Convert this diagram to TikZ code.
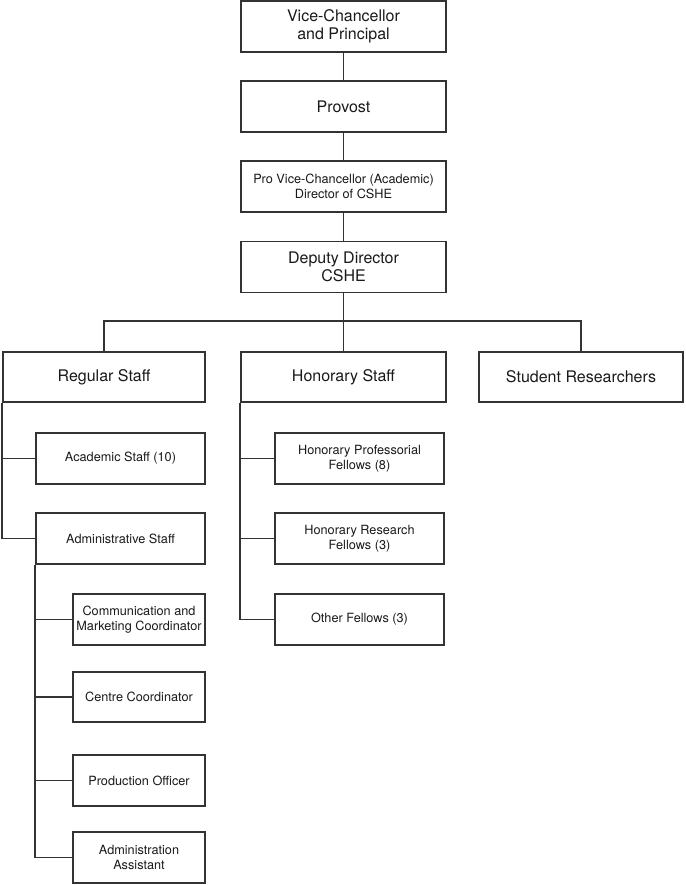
\documentclass[tikz,border=0pt]{standalone}
\usepackage{fontspec}
\setmainfont{TeX Gyre Heros}
\begin{document}
\begin{tikzpicture}[x=1pt,y=-1pt,
  box/.style={draw=black!80, line width=1.6pt, rectangle, inner sep=0pt, align=center, text=black!90},
  bigbox/.style={box, minimum width=205pt, minimum height=51pt, font=\fontsize{16}{18.5}\selectfont},
  smallbox/.style={box, minimum width=169pt, minimum height=51pt, font=\fontsize{12.7}{15}\selectfont},
  subbox/.style={box, minimum width=132pt, minimum height=51pt, font=\fontsize{12.7}{15}\selectfont},
  link/.style={draw=black!80, line width=1.6pt}]
\useasboundingbox (0,0) rectangle (685,885);
\node[bigbox] (vc) at (343.5,26.5) {Vice-Chancellor\\and Principal};
\node[bigbox] (prov) at (343.5,106.5) {Provost};
\node[bigbox, font=\fontsize{12.7}{15}\selectfont] (pvc) at (343.5,186.5) {Pro Vice-Chancellor (Academic)\\Director of CSHE};
\node[bigbox] (dd) at (343.5,267) {Deputy Director\\CSHE};
\node[bigbox, minimum width=202pt, minimum height=50pt] (reg) at (104,377) {Regular Staff};
\node[bigbox, minimum height=50pt] (hon) at (343.5,377) {Honorary Staff};
\node[bigbox, minimum width=204pt, minimum height=50pt] (stud) at (581,377) {Student Researchers};
\node[smallbox] (acad) at (120.5,458.5) {Academic Staff (10)};
\node[smallbox] (adm) at (120.5,538.5) {Administrative Staff};
\node[subbox] (comm) at (139,619.5) {Communication and\\Marketing Coordinator};
\node[subbox, minimum height=50pt] (cent) at (139,697) {Centre Coordinator};
\node[subbox] (prod) at (139,780.5) {Production Officer};
\node[subbox] (asst) at (139,857.5) {Administration\\Assistant};
\node[smallbox] (hprof) at (359.5,458.5) {Honorary Professorial\\Fellows (8)};
\node[smallbox] (hres) at (359.5,538.5) {Honorary Research\\Fellows (3)};
\node[smallbox] (oth) at (359.5,619.5) {Other Fellows (3)};
\coordinate (bus) at (343.5,321);
\draw[link] (vc.south) -- (prov.north);
\draw[link] (prov.south) -- (pvc.north);
\draw[link] (pvc.south) -- (dd.north);
\draw[link] (dd.south) -- (hon.north);
\draw[link] (reg.north) |- (bus) -| (stud.north);
\draw[link] (reg.south west) |- (acad.west);
\draw[link] (reg.south west) |- (adm.west);
\draw[link] (adm.south west) |- (comm.west);
\draw[link] (adm.south west) |- (cent.west);
\draw[link] (adm.south west) |- (prod.west);
\draw[link] (adm.south west) |- (asst.west);
\draw[link] (hon.south west) |- (hprof.west);
\draw[link] (hon.south west) |- (hres.west);
\draw[link] (hon.south west) |- (oth.west);
\end{tikzpicture}
\end{document}
